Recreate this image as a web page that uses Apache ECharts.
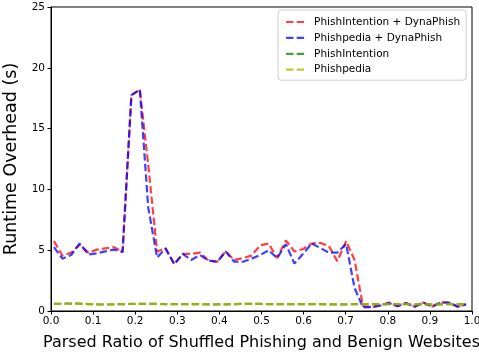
<!DOCTYPE html>
<html>
<head>
<meta charset="utf-8">
<script src="https://cdn.jsdelivr.net/npm/echarts@6/dist/echarts.min.js"></script>
<style>html,body{margin:0;padding:0;background:#fff}#c{width:479px;height:356px}</style>
</head>
<body>
<div id="c"></div>
<script>
const xValues = [0.007,0.027,0.048,0.068,0.089,0.109,0.129,0.150,0.170,0.191,0.211,0.231,0.252,0.272,0.293,0.313,0.333,0.354,0.374,0.395,0.415,0.435,0.456,0.476,0.497,0.517,0.537,0.558,0.578,0.599,0.619,0.639,0.660,0.680,0.701,0.721,0.741,0.762,0.782,0.803,0.823,0.843,0.864,0.884,0.905,0.925,0.945,0.966,0.986];
const phishIntentionDyna = [5.75,4.55,4.8,5.45,4.8,5.05,5.15,5.25,4.85,17.75,18.2,12.0,4.9,5.15,3.85,4.7,4.7,4.8,4.15,4.05,4.9,4.2,4.35,4.55,5.4,5.55,4.35,5.8,4.9,5.1,5.55,5.6,5.35,4.1,5.75,4.2,0.4,0.3,0.45,0.7,0.4,0.65,0.35,0.7,0.35,0.7,0.7,0.35,0.55];
const phishpediaDyna = [5.25,4.3,4.6,5.55,4.65,4.75,4.9,5.05,4.85,17.75,18.2,8.5,4.4,5.15,3.85,4.7,4.2,4.6,4.15,4.05,4.9,4.05,4.05,4.3,4.6,5.0,4.35,5.5,3.9,4.7,5.55,5.2,4.8,4.8,5.5,1.9,0.3,0.35,0.45,0.65,0.4,0.65,0.35,0.7,0.35,0.7,0.7,0.35,0.55];
const phishIntention = [0.58,0.6,0.6,0.6,0.57,0.55,0.53,0.55,0.57,0.58,0.58,0.58,0.58,0.57,0.57,0.56,0.56,0.56,0.54,0.54,0.55,0.57,0.58,0.58,0.58,0.57,0.56,0.56,0.56,0.57,0.57,0.56,0.54,0.54,0.55,0.56,0.57,0.57,0.56,0.56,0.56,0.56,0.55,0.55,0.55,0.55,0.56,0.56,0.56];
const phishpedia = [0.58,0.6,0.6,0.6,0.57,0.55,0.53,0.55,0.57,0.58,0.58,0.58,0.58,0.57,0.57,0.56,0.56,0.56,0.54,0.54,0.55,0.57,0.58,0.58,0.58,0.57,0.56,0.56,0.56,0.57,0.57,0.56,0.54,0.54,0.55,0.56,0.57,0.57,0.56,0.56,0.56,0.56,0.55,0.55,0.55,0.55,0.56,0.56,0.56];
const seriesNames = ['PhishIntention + DynaPhish','Phishpedia + DynaPhish','PhishIntention','Phishpedia'];
const seriesColors = ['rgba(255,0,0,0.75)','rgba(0,0,255,0.75)','rgba(0,128,0,0.75)','rgba(180,180,0,0.78)'];
const xTicks = [0,0.1,0.2,0.3,0.4,0.5,0.6,0.7,0.8,0.9,1.0];
const yTicks = [0,5,10,15,20,25];

const FONT = 'DejaVu Sans';
const allData = [phishIntentionDyna, phishpediaDyna, phishIntention, phishpedia];
const chart = echarts.init(document.getElementById('c'), null, {renderer:'canvas'});
chart.setOption({
  animation:false,
  backgroundColor:'#fff',
  grid:{left:51,right:7,top:7,bottom:45,show:true,borderColor:'#000',borderWidth:1,backgroundColor:'transparent',containLabel:false,outerBoundsMode:'none'},
  xAxis:{
    type:'value',min:xTicks[0],max:xTicks[xTicks.length-1],interval:0.1,
    name:'Parsed Ratio of Shuffled Phishing and Benign Websites',nameLocation:'middle',nameGap:24,
    nameTextStyle:{fontFamily:FONT,fontSize:16,color:'#000'},
    axisLine:{show:true,lineStyle:{color:'#000',width:1}},
    axisTick:{show:true,length:3.5,inside:false,lineStyle:{color:'#000'}},
    axisLabel:{margin:5,fontFamily:FONT,fontSize:10.5,color:'#000',formatter:v=>v.toFixed(1)},
    splitLine:{show:false}
  },
  yAxis:{
    type:'value',min:yTicks[0],max:yTicks[yTicks.length-1],interval:5,
    name:'Runtime Overhead (s)',nameLocation:'middle',nameGap:23,
    nameTextStyle:{fontFamily:FONT,fontSize:17.5,color:'#000'},
    axisLine:{show:true,lineStyle:{color:'#000',width:1}},
    axisTick:{show:true,length:3.5,lineStyle:{color:'#000'}},
    axisLabel:{margin:6,fontFamily:FONT,fontSize:10.5,color:'#000'},
    splitLine:{show:false}
  },
  legend:{
    left:278,top:10,orient:'vertical',
    data:seriesNames,
    itemWidth:19,itemHeight:12,itemGap:4.9,
    padding:[6.5,6,5,7],
    itemStyle:{opacity:0},
    lineStyle:{width:2.2},
    backgroundColor:'rgba(255,255,255,0.8)',borderColor:'#ccc',borderWidth:1,borderRadius:3,
    textStyle:{fontFamily:FONT,fontSize:10.5,color:'#000',padding:[0,0,0,4]}
  },
  series: seriesNames.map((n,k)=>({
    name:n,type:'line',symbol:'none',
    data:xValues.map((x,i)=>[x,allData[k][i]]),
    lineStyle:{color:seriesColors[k],width:2.2,type:[7.4,3.2]},
    itemStyle:{color:seriesColors[k]},
    z:2+k
  }))
});
</script>
</body>
</html>
